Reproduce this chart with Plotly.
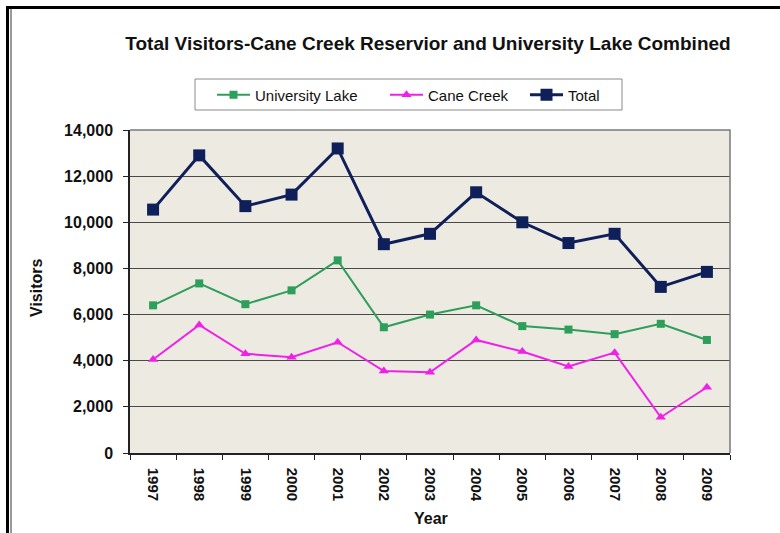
import plotly.graph_objects as go

# Annual visitor counts
years = ["1997", "1998", "1999", "2000", "2001", "2002", "2003",
         "2004", "2005", "2006", "2007", "2008", "2009"]
university_lake = [6400, 7350, 6450, 7050, 8350, 5450, 6000,
                   6400, 5500, 5350, 5150, 5600, 4900]
cane_creek = [4050, 5550, 4300, 4150, 4800, 3550, 3500,
              4900, 4400, 3750, 4350, 1550, 2850]
total = [10550, 12900, 10700, 11200, 13200, 9050, 9500,
         11300, 10000, 9100, 9500, 7200, 7850]

W, H = 780, 533
FONT = "Arial, 'Liberation Sans', sans-serif"

# plot-area edges in pixels
PL, PR, PT, PB = 130, 730, 130, 453


def px(x):
    return x / W


def py(y):
    return 1 - y / H


fig = go.Figure()
fig.add_trace(go.Scatter(
    x=years, y=university_lake, name="University Lake", mode="lines+markers",
    line=dict(color="#2E9E5B", width=2),
    marker=dict(symbol="square", size=8, color="#2E9E5B"),
    legend="legend",
))
fig.add_trace(go.Scatter(
    x=years, y=cane_creek, name="Cane Creek", mode="lines+markers",
    line=dict(color="#F020E8", width=2),
    marker=dict(symbol="triangle-up", size=9, color="#F020E8"),
    legend="legend2",
))
fig.add_trace(go.Scatter(
    x=years, y=total, name="Total", mode="lines+markers",
    line=dict(color="#0F1F5A", width=3),
    marker=dict(symbol="square", size=12, color="#0F1F5A"),
    legend="legend3",
))


def legend_at(xpix):
    return dict(
        orientation="h",
        x=px(xpix), y=py(95), xanchor="left", yanchor="middle",
        bgcolor="rgba(0,0,0,0)", borderwidth=0,
        font=dict(size=15, color="#111111"),
        itemwidth=33,
    )


fig.update_layout(
    width=W, height=H,
    margin=dict(l=0, r=0, t=0, b=0),
    paper_bgcolor="white",
    plot_bgcolor="#EDEAE2",
    font=dict(family=FONT, color="#111111"),
    title=dict(
        text="Total Visitors-Cane Creek Reservior and University Lake Combined",
        x=px(428), y=py(43), xanchor="center", yanchor="middle",
        font=dict(size=19, weight="bold", color="#111111"),
    ),
    showlegend=True,
    legend=legend_at(212),
    legend2=legend_at(385),
    legend3=legend_at(525),
    xaxis=dict(
        domain=[px(PL), px(PR)],
        type="category", range=[-0.5, len(years) - 0.5],
        tickson="boundaries",
        ticks="outside", ticklen=5, tickcolor="#222222",
        tickangle=90, ticklabelstandoff=10,
        tickfont=dict(size=15, weight="bold", color="#111111"),
        showgrid=False, showline=True, linecolor="#222222", linewidth=1.5,
        automargin=False,
    ),
    yaxis=dict(
        domain=[py(PB), py(PT)],
        range=[0, 14000], dtick=2000, tickformat=",",
        ticks="outside", ticklen=5, tickcolor="#222222",
        ticklabelstandoff=7,
        tickfont=dict(size=16, weight="bold", color="#111111"),
        showgrid=True, gridcolor="#4A4A4A", gridwidth=1,
        showline=True, linecolor="#222222", linewidth=1.5,
        zeroline=False, automargin=False,
    ),
    annotations=[
        dict(text="Year", x=px(431), y=py(518), xref="paper", yref="paper",
             showarrow=False, xanchor="center", yanchor="middle",
             font=dict(size=16, weight="bold", color="#111111")),
        dict(text="Visitors", x=px(36), y=py(288), xref="paper", yref="paper",
             showarrow=False, xanchor="center", yanchor="middle", textangle=-90,
             font=dict(size=16, weight="bold", color="#111111")),
    ],
    shapes=[
        # legend frame
        dict(type="rect", xref="paper", yref="paper",
             x0=px(195), x1=px(622), y0=py(110), y1=py(79),
             line=dict(color="#8A8A8A", width=1), fillcolor="white",
             layer="below"),
        # top and right edges of the plot area
        dict(type="path", xref="paper", yref="paper",
             path=f"M {px(PL)},{py(PT)} L {px(PR)},{py(PT)} L {px(PR)},{py(PB)}",
             line=dict(color="#7A7A7A", width=1.5), layer="above"),
        # outer frame: dark rule on the left and top
        dict(type="line", xref="paper", yref="paper",
             x0=px(7.5), x1=px(7.5), y0=0, y1=py(6),
             line=dict(color="#000000", width=3)),
        dict(type="line", xref="paper", yref="paper",
             x0=px(11), x1=px(11), y0=0, y1=py(9),
             line=dict(color="#9A9A9A", width=2)),
        dict(type="line", xref="paper", yref="paper",
             x0=px(6), x1=1, y0=py(7.5), y1=py(7.5),
             line=dict(color="#000000", width=3)),
    ],
)

fig.write_html("out.html")
